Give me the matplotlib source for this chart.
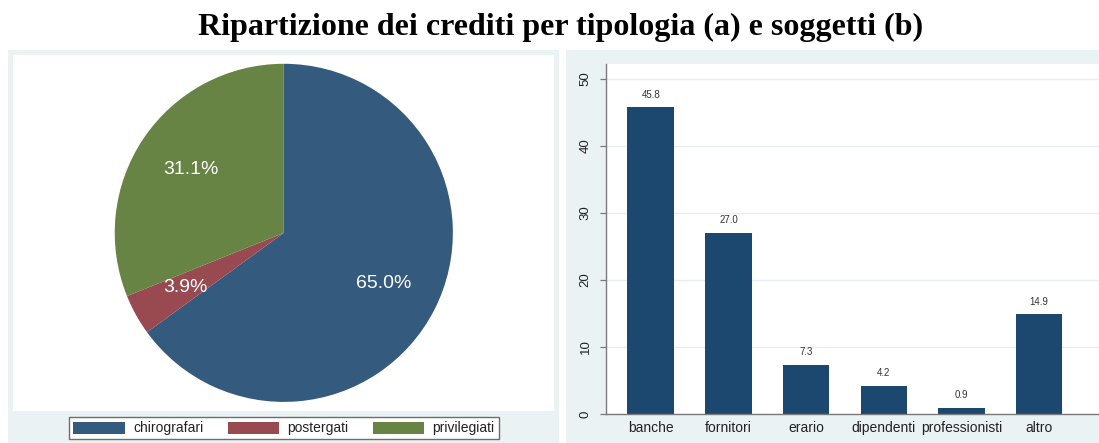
import matplotlib
matplotlib.use("Agg")
import matplotlib.pyplot as plt
from matplotlib.patches import Patch

# ---- data ----
pie_labels = ["chirografari", "postergati", "privilegiati"]
pie_values = [65.0, 3.9, 31.1]
pie_colors = ["#345A7E", "#994A50", "#688444"]

bar_categories = ["banche", "fornitori", "erario", "dipendenti", "professionisti", "altro"]
bar_values = [45.8, 27.0, 7.3, 4.2, 0.9, 14.9]
bar_color = "#1C4870"
y_ticks = [0, 10, 20, 30, 40, 50]

title = "Ripartizione dei crediti per tipologia (a) e soggetti (b)"

W, H = 1099, 443
fig = plt.figure(figsize=(W / 100, H / 100), dpi=100)
fig.patch.set_facecolor("white")

frame_col = "#EAF2F3"
sans = ["Liberation Sans", "DejaVu Sans"]


def rect(x0, y0, x1, y1):
    """pixel box (top-left origin) -> figure fraction rect"""
    return [x0 / W, 1 - y1 / H, (x1 - x0) / W, (y1 - y0) / H]


# background frames (Stata-like graph regions)
for (x0, y0, x1, y1) in [(8.3, 50, 559, 443), (566, 50, 1100, 443)]:
    bg = fig.add_axes(rect(x0, y0, x1, y1), zorder=0)
    bg.set_facecolor(frame_col)
    bg.set_xticks([])
    bg.set_yticks([])
    for s in bg.spines.values():
        s.set_visible(False)

# title
fig.text(561 / W, 1 - 27 / H, title, ha="center", va="center",
         family=["Liberation Serif", "DejaVu Serif"], fontweight="bold", fontsize=23)

# ---- pie ----
axp = fig.add_axes(rect(13.3, 55, 554.3, 410.7), zorder=2)
wedges, texts, autotexts = axp.pie(
    pie_values, colors=pie_colors, startangle=90, counterclock=False,
    autopct="%1.1f%%", pctdistance=0.665,
    wedgeprops=dict(linewidth=0),
    textprops=dict(color="white", fontsize=14, family=sans))
axp.set_frame_on(True)
axp.set_facecolor("white")
axp.set_aspect("auto")
axp.set_xlim(-1.60, 1.60)
axp.set_ylim(-1.052, 1.052)
axp.set_xticks([])
axp.set_yticks([])
for s in axp.spines.values():
    s.set_visible(False)

handles = [Patch(facecolor=c, edgecolor="none") for c in pie_colors]
leg = fig.legend(handles, pie_labels, loc="center",
                 bbox_to_anchor=(284 / W, 1 - 428.3 / H), ncol=3,
                 prop=dict(family=sans, size=10), frameon=True, fancybox=False,
                 edgecolor="#6E6E6E", facecolor="white", framealpha=1,
                 handlelength=3.7, handleheight=0.95, handletextpad=0.6,
                 columnspacing=1.75, borderpad=0.3, borderaxespad=0)
leg.set_zorder(5)
leg.get_frame().set_linewidth(1.0)
for t in leg.get_texts():
    t.set_color("#222222")

# ---- bars ----
axb = fig.add_axes(rect(605.7, 64, 1099, 414), zorder=2)
axb.set_facecolor("white")
x = list(range(len(bar_categories)))
axb.bar(x, bar_values, width=0.6, color=bar_color, zorder=3)
axb.set_xlim(-0.58, 5.77)
axb.set_ylim(0, 52.24)
axb.set_yticks(y_ticks)
axb.set_yticklabels([str(v) for v in y_ticks], rotation=90, va="center",
                    family=sans, fontsize=9.5, color="#222222")
axb.set_xticks(x)
axb.set_xticklabels(bar_categories, family=sans, fontsize=10, color="#222222")
axb.tick_params(axis="x", length=0, pad=5)
axb.tick_params(axis="y", length=4, width=0.9, color="#7A7A7A", pad=6)
axb.grid(axis="y", color="#E4EEF0", linewidth=1.0, zorder=0)
axb.set_axisbelow(True)
for s in ["top", "right"]:
    axb.spines[s].set_visible(False)
for s in ["left", "bottom"]:
    axb.spines[s].set_color("#7A7A7A")
    axb.spines[s].set_linewidth(1.0)
    axb.spines[s].set_zorder(4)
for xi, v in zip(x, bar_values):
    axb.annotate(f"{v:.1f}", (xi, v), xytext=(0, 5.5), textcoords="offset points",
                 ha="center", va="bottom", family=sans, fontsize=7, color="#333333")

fig.savefig("out.png", dpi=100, facecolor="white")
